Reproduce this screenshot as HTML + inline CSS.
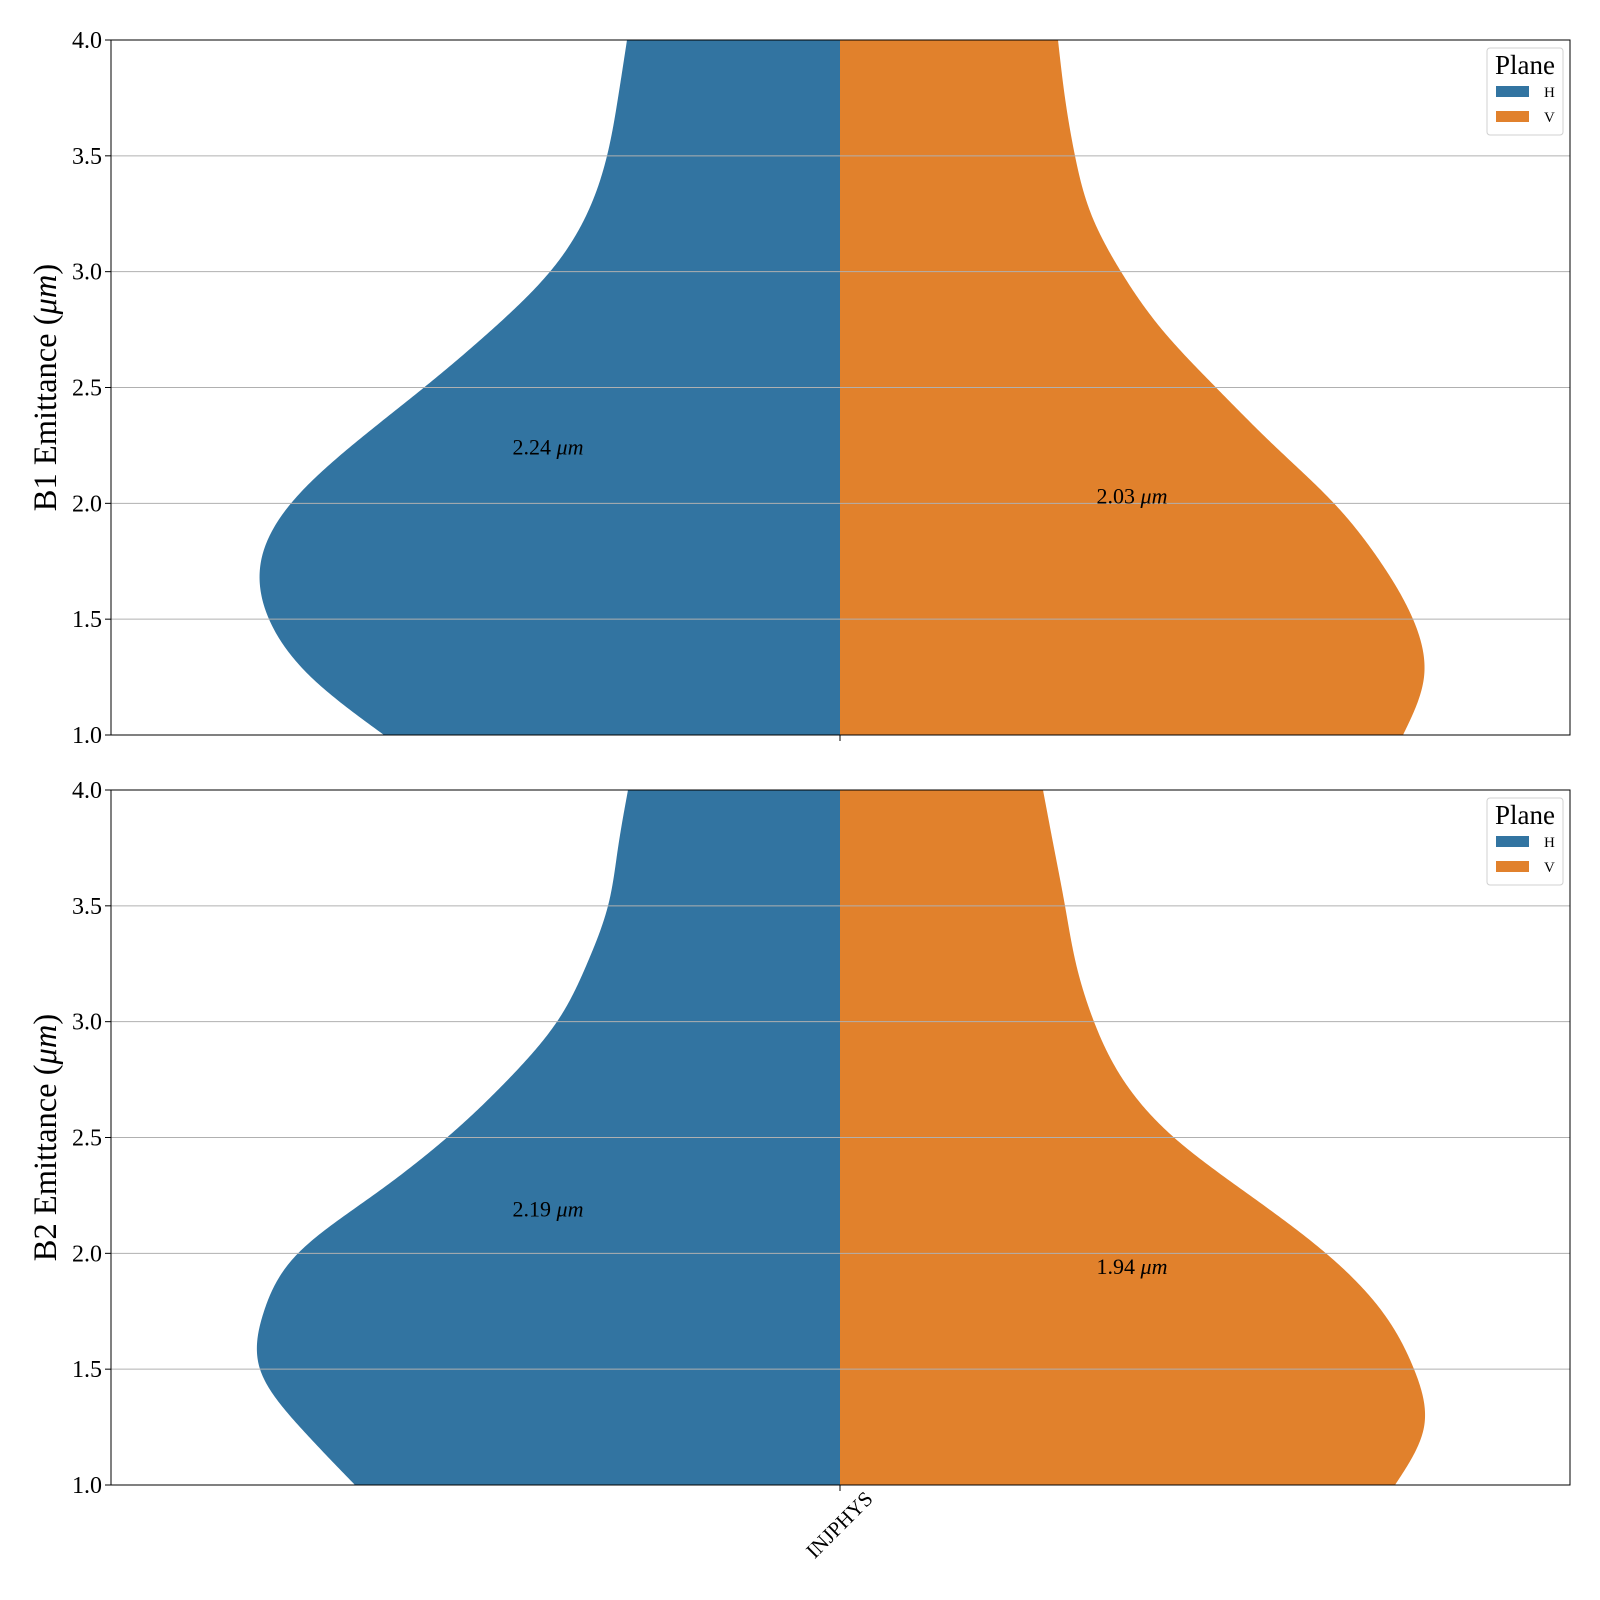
<!DOCTYPE html>
<html><head><meta charset="utf-8"><style>
body{margin:0;background:#fff;}
svg{display:block;font-family:"Liberation Serif","DejaVu Serif",serif;}
</style></head><body>
<svg id="chart" width="1600" height="1600" viewBox="0 0 1600 1600" xmlns="http://www.w3.org/2000/svg"></svg>
<script>
const yLevels=[4.0,3.75,3.5,3.25,3.0,2.75,2.5,2.25,2.0,1.75,1.5,1.25,1.0];
const b1H=[213,222,233,253,290,348,416,488,549,579,571,529,456];
const b1V=[218,225,235,251,281,322,376,434,494,540,573,584,563];
const b2H=[212,222,232,253,283,332,393,467,542,576,580,540,485];
const b2V=[203,214,225,236,254,283,334,410,486,542,574,584,555];
const medians=[[2.24,2.03],[2.19,1.94]];
const yTicks=[1.0,1.5,2.0,2.5,3.0,3.5,4.0];
const category="INJPHYS";
const panels=[{title:"B1 Emittance (",top:40,H:b1H,V:b1V},{title:"B2 Emittance (",top:790,H:b2H,V:b2V}];
const NS="http://www.w3.org/2000/svg";
const svg=document.getElementById('chart');
const X0=111,X1=1570,CX=840,PH=695,YMIN=1,YMAX=4;
const cH="#3274a1",cV="#e1812c";
function el(t,a,p){const e=document.createElementNS(NS,t);for(const k in a)e.setAttribute(k,a[k]);(p||svg).appendChild(e);return e;}
function spline(xs,ys){const n=xs.length,h=[],a=[],l=[1],mu=[0],z=[0],c=new Array(n).fill(0),b=[],d=[];
  for(let i=0;i<n-1;i++)h[i]=xs[i+1]-xs[i];
  for(let i=1;i<n-1;i++)a[i]=3/h[i]*(ys[i+1]-ys[i])-3/h[i-1]*(ys[i]-ys[i-1]);
  for(let i=1;i<n-1;i++){l[i]=2*(xs[i+1]-xs[i-1])-h[i-1]*mu[i-1];mu[i]=h[i]/l[i];z[i]=(a[i]-h[i-1]*z[i-1])/l[i];}
  l[n-1]=1;z[n-1]=0;
  for(let j=n-2;j>=0;j--){c[j]=z[j]-mu[j]*c[j+1];b[j]=(ys[j+1]-ys[j])/h[j]-h[j]*(c[j+1]+2*c[j])/3;d[j]=(c[j+1]-c[j])/(3*h[j]);}
  return x=>{let i=0;while(i<n-2&&x>xs[i+1])i++;const dx=x-xs[i];return ys[i]+b[i]*dx+c[i]*dx*dx+d[i]*dx*dx*dx;};}
function violinPath(vals,sign,ys){
  const yy=yLevels.slice().reverse(),ww=vals.slice().reverse();
  const f=spline(yy,ww);let d="M"+CX+","+ys(YMIN);
  for(let k=0;k<=300;k++){const v=YMIN+(YMAX-YMIN)*k/300;d+=" L"+(CX+sign*f(v)).toFixed(2)+","+ys(v).toFixed(2);}
  return d+" L"+CX+","+ys(YMAX)+" Z";}
panels.forEach((p,pi)=>{
  const ys=v=>p.top+PH-(v-YMIN)/(YMAX-YMIN)*PH;
  const g=el('g',{});
  
  
  yTicks.forEach(t=>{
    el('line',{x1:X0-6,x2:X0,y1:ys(t),y2:ys(t),stroke:"#000","stroke-width":1},g);
    const tx=el('text',{x:X0-9,y:ys(t)+8,"text-anchor":"end","font-size":24},g);
    tx.textContent=t.toFixed(1);
    
    
  });
  const vh=el('path',{d:violinPath(p.H,-1,ys),fill:cH},g);
  
  
  const vv=el('path',{d:violinPath(p.V,1,ys),fill:cV},g);
  
  
  yTicks.forEach(t=>{
    const l=el('line',{x1:X0,x2:X1,y1:ys(t),y2:ys(t),stroke:"#b0b0b0","stroke-width":1},g);
    
    
  });
  const m=medians[pi];
  const lh=el('text',{x:CX-292,y:ys(m[0])+7,"text-anchor":"middle","font-size":22},g);
  lh.innerHTML=m[0].toFixed(2)+' <tspan font-style="italic">μm</tspan>';
  
  
  const lv=el('text',{x:CX+292,y:ys(m[1])+7,"text-anchor":"middle","font-size":22},g);
  lv.innerHTML=m[1].toFixed(2)+' <tspan font-style="italic">μm</tspan>';
  
  
  el('rect',{x:X0,y:p.top,width:X1-X0,height:PH,fill:"none",stroke:"#000","stroke-width":1},g);
  el('line',{x1:CX,x2:CX,y1:p.top+PH,y2:p.top+PH+6,stroke:"#000"},g);
  const yt=el('text',{x:0,y:0,"text-anchor":"middle","font-size":32.5,transform:`translate(56,${p.top+PH/2}) rotate(-90)`},g);
  yt.innerHTML=p.title+'<tspan font-style="italic">μm</tspan>)';
  
  
  const lg=el('g',{},g);
  
  
  el('rect',{x:1487,y:p.top+8,width:76,height:87,rx:3,fill:"#fff",stroke:"#d0d0d0"},lg);
  const lt=el('text',{x:1525,y:p.top+34,"text-anchor":"middle","font-size":27},lg);lt.textContent="Plane";
  [["H",cH,54],["V",cV,79]].forEach(([n,c,dy])=>{
    const e=el('rect',{x:1496,y:p.top+dy-8,width:33,height:11,fill:c},lg);
    
    
    const t=el('text',{x:1544,y:p.top+dy+3,"font-size":15},lg);t.textContent=n;
  });
});
const xl=el('text',{x:0,y:0,"text-anchor":"end","font-size":21,transform:"translate(874,1500) rotate(-45)"});
xl.textContent=category;


</script>
</body></html>
